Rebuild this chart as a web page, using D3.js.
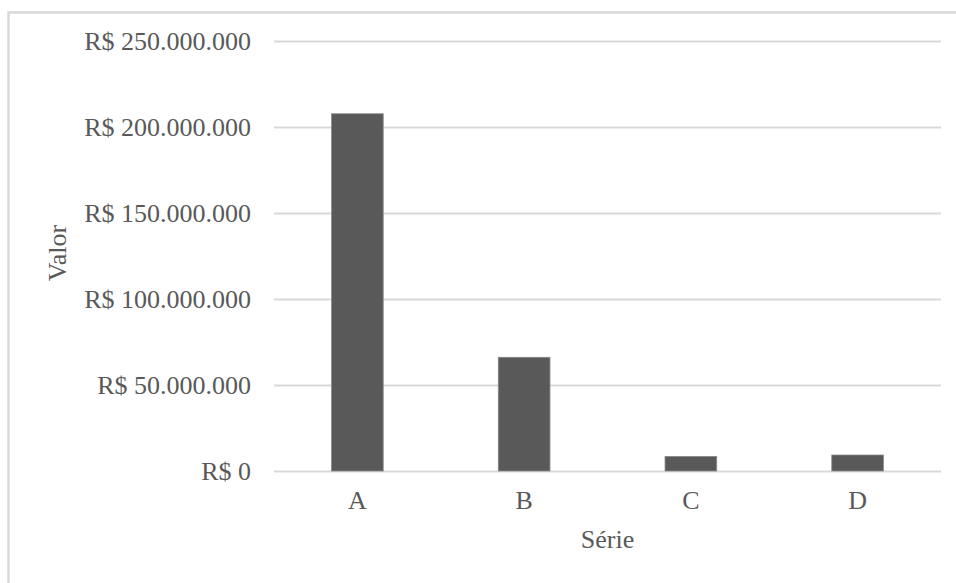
<!DOCTYPE html>
<html>
<head>
<meta charset="utf-8">
<script src="https://cdn.jsdelivr.net/npm/d3@7"></script>
<style>
  html, body { margin: 0; padding: 0; background: #fff; }
  svg text { font-family: "Liberation Serif", "Times New Roman", serif; fill: #595959; }
</style>
</head>
<body>
<svg id="chart" width="956" height="583"></svg>
<script>
// Valores por série (R$)
const categories = ["A", "B", "C", "D"];
const values = [207700000, 66100000, 8500000, 9300000];
const yTicks = [0, 50000000, 100000000, 150000000, 200000000, 250000000];
const xTitle = "Série";
const yTitle = "Valor";

const W = 956, H = 583;
const margin = { top: 41, right: 15, bottom: 112, left: 274 };

const svg = d3.select("#chart");

// moldura da área do gráfico (apenas borda superior e esquerda visíveis)
svg.append("path")
  .attr("d", `M8.5,${H} V12.5 H${W}`)
  .attr("fill", "none")
  .attr("stroke", "#d9d9d9")
  .attr("stroke-width", 2.5);

const x = d3.scaleBand()
  .domain(categories)
  .range([margin.left, W - margin.right])
  .paddingInner(0.69)
  .paddingOuter(0.345);

const y = d3.scaleLinear()
  .domain([0, 250000000])
  .range([H - margin.bottom, margin.top]);

const fmt = v => "R$ " + (v === 0 ? "0" : d3.format(",.0f")(v).replace(/,/g, "."));

// linhas de grade + rótulos do eixo Y
const yAxis = d3.axisLeft(y)
  .tickValues(yTicks)
  .tickSize(-(W - margin.right - margin.left))
  .tickPadding(23)
  .tickFormat(fmt);

const gy = svg.append("g")
  .attr("transform", `translate(${margin.left},0)`)
  .call(yAxis);
gy.select(".domain").remove();
gy.selectAll(".tick line").attr("stroke", "#d9d9d9").attr("stroke-width", 2);
gy.selectAll(".tick text")
  .attr("font-size", 26)
  .attr("fill", "#595959")
  .style("font-family", '"Liberation Serif", serif');

// barras
svg.append("g")
  .selectAll("rect")
  .data(categories.map((c, i) => ({ c, v: values[i] })))
  .join("rect")
  .attr("x", d => x(d.c))
  .attr("width", x.bandwidth())
  .attr("y", d => y(d.v))
  .attr("height", d => y(0) - y(d.v))
  .attr("fill", "#595959")
  .attr("stroke", "#8a8a8a")
  .attr("stroke-width", 0.8);

// eixo X (apenas rótulos)
const xAxis = d3.axisBottom(x).tickSize(0).tickPadding(20);
const gx = svg.append("g")
  .attr("transform", `translate(0,${y(0)})`)
  .call(xAxis);
gx.select(".domain").remove();
gx.selectAll(".tick text")
  .attr("font-size", 26)
  .attr("fill", "#595959")
  .style("font-family", '"Liberation Serif", serif');

// títulos dos eixos
svg.append("text")
  .attr("x", (margin.left + W - margin.right) / 2 + 0)
  .attr("y", 548)
  .attr("text-anchor", "middle")
  .attr("font-size", 26)
  .text(xTitle);

svg.append("text")
  .attr("transform", `translate(66,253) rotate(-90)`)
  .attr("text-anchor", "middle")
  .attr("font-size", 26)
  .text(yTitle);
</script>
</body>
</html>
